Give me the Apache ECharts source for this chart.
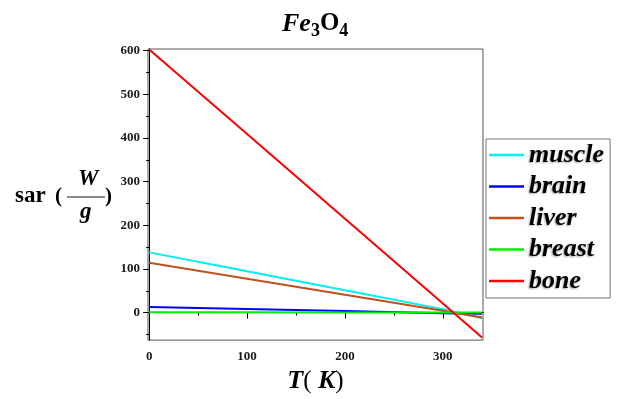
<!DOCTYPE html>
<html><head><meta charset="utf-8">
<script src="https://cdn.jsdelivr.net/npm/echarts@6/dist/echarts.min.js"></script>
<style>html,body{margin:0;padding:0;background:#fff}#c{width:619px;height:399px}</style>
</head><body><div id="c"></div>
<script>
const temperatures = [0, 100, 200, 300, 340];
const muscle = [138, 95, 51, 8, -13];
const brain  = [12.6, 8.0, 3.4, -1.2, -2.8];
const liver  = [114, 77.5, 41, 4.5, -11];
const breast = [1.0, 0.7, 0.4, 0.1, 0.0];
const bone   = [603, 409, 215, 21, -57];
const seriesNames = ['muscle', 'brain', 'liver', 'breast', 'bone'];
const xTickValues = [0, 100, 200, 300];
const xMinorTickValues = [50, 150, 250];
const yTickValues = [0, 100, 200, 300, 400, 500, 600];
const yMinorTickValues = [-50, 50, 150, 250, 350, 450, 550];

const seriesValues = [muscle, brain, liver, breast, bone];
const colors = ['#00f0f0', '#0000ff', '#c0501e', '#00ee00', '#ff0000'];
const SERIF = '"Liberation Serif", "DejaVu Serif", serif';

const chart = echarts.init(document.getElementById('c'), null, {renderer: 'canvas'});

const xMin = -1.2, xMax = 341, yMin = -63, yMax = 604;

function commonXAxis(ticks, len, main) {
  return {
    type: 'value', min: xMin, max: xMax, position: 'bottom',
    axisLine: {show: main, lineStyle: {color: '#000', width: 1}},
    axisTick: {show: true, customValues: ticks, length: len, lineStyle: {color: '#000', width: 1}},
    axisLabel: main ? {show: true, customValues: ticks, margin: 10, color: '#1a1a1a', fontFamily: SERIF, fontSize: 13, fontWeight: 'bold'} : {show: false},
    splitLine: {show: false},
    minorTick: {show: false}
  };
}
function commonYAxis(ticks, len, main) {
  return {
    type: 'value', min: yMin, max: yMax, position: 'left',
    axisLine: {show: main, lineStyle: {color: '#000', width: 1}},
    axisTick: {show: true, customValues: ticks, length: len, lineStyle: {color: '#000', width: 1}},
    axisLabel: main ? {show: true, customValues: ticks, margin: 8, color: '#1a1a1a', fontFamily: SERIF, fontSize: 13, fontWeight: 'bold'} : {show: false},
    splitLine: {show: false},
    minorTick: {show: false}
  };
}

const xAxisMain = commonXAxis(xTickValues, 6, true);
xAxisMain.name = '{i|T}{n|(}{i| K}{n|)}';
xAxisMain.nameLocation = 'middle';
xAxisMain.nameGap = 25;
xAxisMain.nameTextStyle = {
  rich: {
    i: {fontFamily: SERIF, fontSize: 26, fontWeight: 'bold', fontStyle: 'italic', color: '#000'},
    n: {fontFamily: SERIF, fontSize: 25, fontWeight: 'normal', color: '#000'}
  }
};

const option = {
  animation: false,
  backgroundColor: '#fff',
  title: {
    text: '{a|Fe}{s|3}{b|O}{s|4}',
    left: 277, top: 3,
    textStyle: {
      rich: {
        a: {fontFamily: SERIF, fontSize: 26, fontWeight: 'bold', fontStyle: 'italic', color: '#000'},
        b: {fontFamily: SERIF, fontSize: 25, fontWeight: 'bold', color: '#000'},
        s: {fontFamily: SERIF, fontSize: 18, fontWeight: 'bold', color: '#000', padding: [14, 0, 0, 0]}
      }
    }
  },
  grid: {left: 148, right: 136, top: 49, bottom: 54, show: true, borderColor: '#555', borderWidth: 1, containLabel: false},
  legend: {
    orient: 'vertical', left: 486, top: 139,
    data: seriesNames,
    icon: 'rect', itemWidth: 35, itemHeight: 2.5, itemGap: 5.5, itemTextGap: 8,
    padding: [3, 6, 4, 3],
    borderColor: '#777', borderWidth: 1, backgroundColor: '#fff',
    textStyle: {fontFamily: SERIF, fontSize: 26, fontWeight: 'bold', fontStyle: 'italic', color: '#000', lineHeight: 26,
      textShadowColor: 'rgba(0,0,0,0.35)', textShadowBlur: 2, textShadowOffsetX: -1, textShadowOffsetY: 1}
  },
  xAxis: [xAxisMain, commonXAxis(xMinorTickValues, 3, false)],
  yAxis: [commonYAxis(yTickValues, 6, true), commonYAxis(yMinorTickValues, 3, false)],
  series: seriesNames.map((name, k) => ({
    name, type: 'line', xAxisIndex: 0, yAxisIndex: 0,
    data: temperatures.map((t, i) => [t, seriesValues[k][i]]),
    showSymbol: false, symbol: 'none',
    lineStyle: {color: colors[k], width: 2},
    itemStyle: {color: colors[k]},
    z: k === 4 ? 4 : 2
  })),
  graphic: [
    {type: 'text', left: 15, top: 185, style: {text: 'sar', font: 'bold 23px ' + SERIF, fill: '#000'}},
    {type: 'text', left: 55, top: 186, style: {text: '(', font: 'bold 21px ' + SERIF, fill: '#000'}},
    {type: 'text', left: 78, top: 168, style: {text: 'W', font: 'bold italic 23px ' + SERIF, fill: '#000'}},
    {type: 'line', shape: {x1: 67, y1: 197, x2: 105, y2: 197}, style: {stroke: '#666', lineWidth: 1.5}},
    {type: 'text', left: 80, top: 201, style: {text: 'g', font: 'bold italic 23px ' + SERIF, fill: '#000'}},
    {type: 'text', left: 105, top: 186, style: {text: ')', font: 'bold 21px ' + SERIF, fill: '#000'}}
  ]
};
chart.setOption(option);
</script>
</body></html>
